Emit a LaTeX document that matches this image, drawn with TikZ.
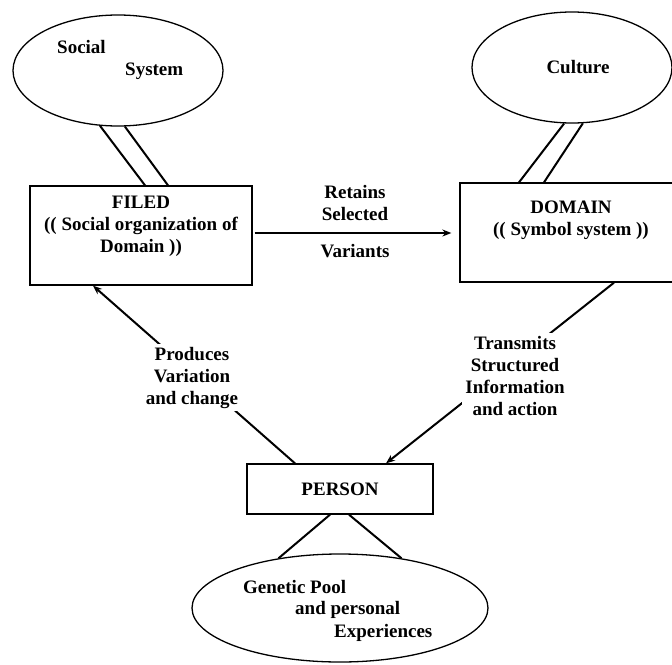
\documentclass[tikz,border=0pt]{standalone}
\usepackage{fontspec}
\setmainfont{Liberation Serif}
\usetikzlibrary{arrows.meta,calc,shapes.geometric}
\begin{document}
\begin{tikzpicture}[x=1pt,y=-1pt,
  every node/.style={font=\fontsize{19}{22}\selectfont\bfseries},
  boxnode/.style={draw, line width=1.3pt, inner sep=0pt},
  ellnode/.style={draw, ellipse, line width=1.3pt, inner sep=0pt},
  txt/.style={inner sep=0pt, align=center},
  lbl/.style={fill=white, inner sep=3pt, align=center},
  conn/.style={line width=2pt},
  arr/.style={line width=2pt, -{Stealth[length=9pt,width=7pt]}}]
\useasboundingbox (0,0) rectangle (672,664);
\clip (0,0) rectangle (672,664);
% ellipses
\node[ellnode, minimum width=210pt, minimum height=111pt] (soc) at (118,70.5) {};
\node[ellnode, minimum width=200pt, minimum height=111pt] (cult) at (572,67.5) {};
\node[ellnode, minimum width=296pt, minimum height=108pt] (gen) at (340,608) {};
% boxes
\node[boxnode, minimum width=222pt, minimum height=99pt] (filed) at (141,235.5) {};
\node[boxnode, minimum width=222pt, minimum height=99pt] (domain) at (571,232.5) {};
\node[boxnode, minimum width=186pt, minimum height=50pt] (person) at (340,489) {};
% texts
\node[txt, anchor=base west] (soctxt1) at (57,53) {Social};
\node[txt, anchor=base west] (soctxt2) at (125,75) {System};
\node[txt, anchor=base] (culttxt) at (578,73) {Culture};
\node[txt] (filedtxt) at (141,226) {FILED\\(( Social organization of\\Domain ))};
\node[txt] (domaintxt) at (571,220.5) {DOMAIN\\(( Symbol system ))};
\node[txt] (persontxt) at (340,489) {PERSON};
\node[txt, anchor=base west] (gentxt1) at (243,593) {Genetic Pool};
\node[txt, anchor=base west] (gentxt2) at (295,614) {and personal};
\node[txt, anchor=base west] (gentxt3) at (334,637) {Experiences};
% double links
\draw[conn] (soc.252) -- ($(filed.north)+(4,0)$);
\draw[conn] (soc.277) -- ($(filed.north)+(27,0)$);
\draw[conn] (cult.262) -- ($(domain.north)+(-52,0)$);
\draw[conn] (cult.281) -- ($(domain.north)+(-27,0)$);
% person to genetic
\draw[conn] ($(person.south)+(-10,0)$) -- (gen.141);
\draw[conn] ($(person.south)+(9,0)$) -- (gen.39);
% retains arrow
\draw[arr, shorten >=8pt] ($(filed.east)+(2,-2.5)$) -- ($(domain.west)+(0,0.5)$);
\node[txt] (rettxt) at (355,202.5) {Retains\\Selected};
\node[txt] (vartxt) at (355,251) {Variants};
% domain to person
\draw[arr] ($(domain.south)+(43,0)$) -- ($(person.north)+(46,0)$);
\node[lbl] (transtxt) at (515,375.5) {Transmits\\Structured\\Information\\and action};
% person to filed
\draw[arr] ($(person.north)+(-45,0)$) -- ($(filed.south)+(-48,0)$);
\node[lbl] (prodtxt) at (192,377.5) {Produces\\Variation\\and change};
\end{tikzpicture}
\end{document}
